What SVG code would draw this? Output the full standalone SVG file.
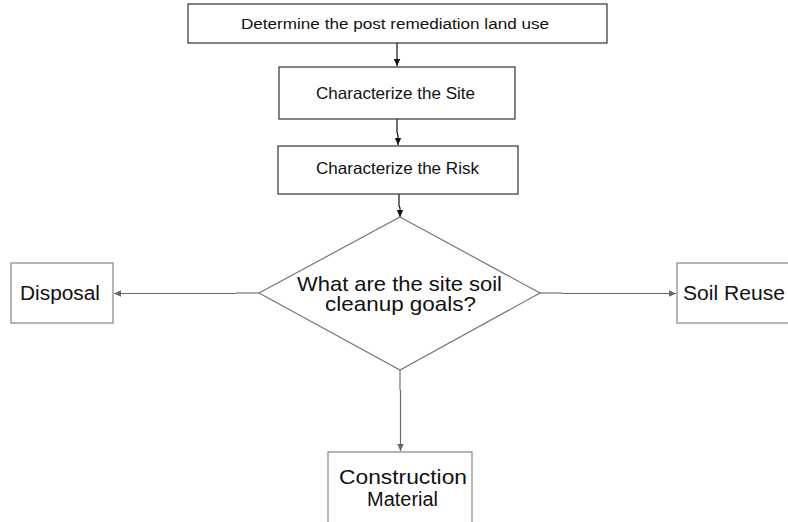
<svg xmlns="http://www.w3.org/2000/svg" width="788" height="522" viewBox="0 0 788 522">
  <defs>
    <marker id="arrDark" markerWidth="8" markerHeight="8" refX="7" refY="4" orient="auto" markerUnits="userSpaceOnUse">
      <path d="M0,0.8 L7,4 L0,7.2 Z" fill="#111"/>
    </marker>
    <marker id="arrGray" markerWidth="8" markerHeight="8" refX="7" refY="4" orient="auto" markerUnits="userSpaceOnUse">
      <path d="M0,0.8 L7,4 L0,7.2 Z" fill="#666"/>
    </marker>
  </defs>
  <style>
    .box { fill: #fff; stroke: #333; stroke-width: 1.2; }
    .boxg { fill: #fff; stroke: #858585; stroke-width: 1.2; }
    .dia { fill: #fff; stroke: #777; stroke-width: 1.2; }
    .lbl { font-family: "Liberation Sans", Arial, sans-serif; fill: #111; }
    .cd { stroke: #111; stroke-width: 1.2; fill: none; }
    .cg { stroke: #6a6a6a; stroke-width: 1.2; fill: none; }
    .cl { stroke: #aaa; stroke-width: 2; fill: none; }
  </style>
  <rect width="788" height="522" fill="#fff"/>

  <g id="connectors">
    <path class="cd" d="M397,43 V66" marker-end="url(#arrDark)"/>
    <path class="cd" d="M397,119 V132 L398,136 V145" marker-end="url(#arrDark)"/>
    <path class="cd" d="M399,194 V206 L400,208 V217" marker-end="url(#arrDark)"/>
    <path class="cl" d="M259,293 H236"/>
    <path class="cg" d="M236,293.5 H114" marker-end="url(#arrGray)"/>
    <path class="cl" d="M540,293 H562"/>
    <path class="cg" d="M562,293.5 H676" marker-end="url(#arrGray)"/>
    <path class="cl" d="M400,370 V390"/>
    <path class="cg" d="M400.5,390 V451" marker-end="url(#arrGray)"/>
  </g>

  <g id="land-use">
    <rect class="box" x="188" y="4" width="419" height="39"/>
    <text class="lbl" x="241" y="29" font-size="15.5" textLength="308" lengthAdjust="spacingAndGlyphs">Determine the post remediation land use</text>
  </g>

  <g id="characterize-site">
    <rect class="box" x="279" y="67" width="236" height="52"/>
    <text class="lbl" x="316" y="99" font-size="16.5" textLength="159" lengthAdjust="spacingAndGlyphs">Characterize the Site</text>
  </g>

  <g id="characterize-risk">
    <rect class="box" x="278" y="146" width="240" height="48"/>
    <text class="lbl" x="316" y="174" font-size="16.5" textLength="163" lengthAdjust="spacingAndGlyphs">Characterize the Risk</text>
  </g>

  <g id="cleanup-goals">
    <polygon class="dia" points="400,217 540,293 400,370 259,293"/>
    <text class="lbl" x="297" y="291" font-size="21" textLength="205" lengthAdjust="spacingAndGlyphs">What are the site soil</text>
    <text class="lbl" x="325" y="311" font-size="21" textLength="151" lengthAdjust="spacingAndGlyphs">cleanup goals?</text>
  </g>

  <g id="disposal">
    <rect class="boxg" x="11" y="263" width="102" height="60"/>
    <text class="lbl" x="20" y="300" font-size="20" textLength="80" lengthAdjust="spacingAndGlyphs">Disposal</text>
  </g>

  <g id="soil-reuse">
    <rect class="boxg" x="677" y="263" width="130" height="60"/>
    <text class="lbl" x="683" y="300" font-size="20" textLength="102" lengthAdjust="spacingAndGlyphs">Soil Reuse</text>
  </g>

  <g id="construction-material">
    <rect class="boxg" x="328" y="452" width="144" height="90"/>
    <text class="lbl" x="339" y="484" font-size="20" textLength="128" lengthAdjust="spacingAndGlyphs">Construction</text>
    <text class="lbl" x="367" y="506" font-size="20" textLength="71" lengthAdjust="spacingAndGlyphs">Material</text>
  </g>
</svg>
